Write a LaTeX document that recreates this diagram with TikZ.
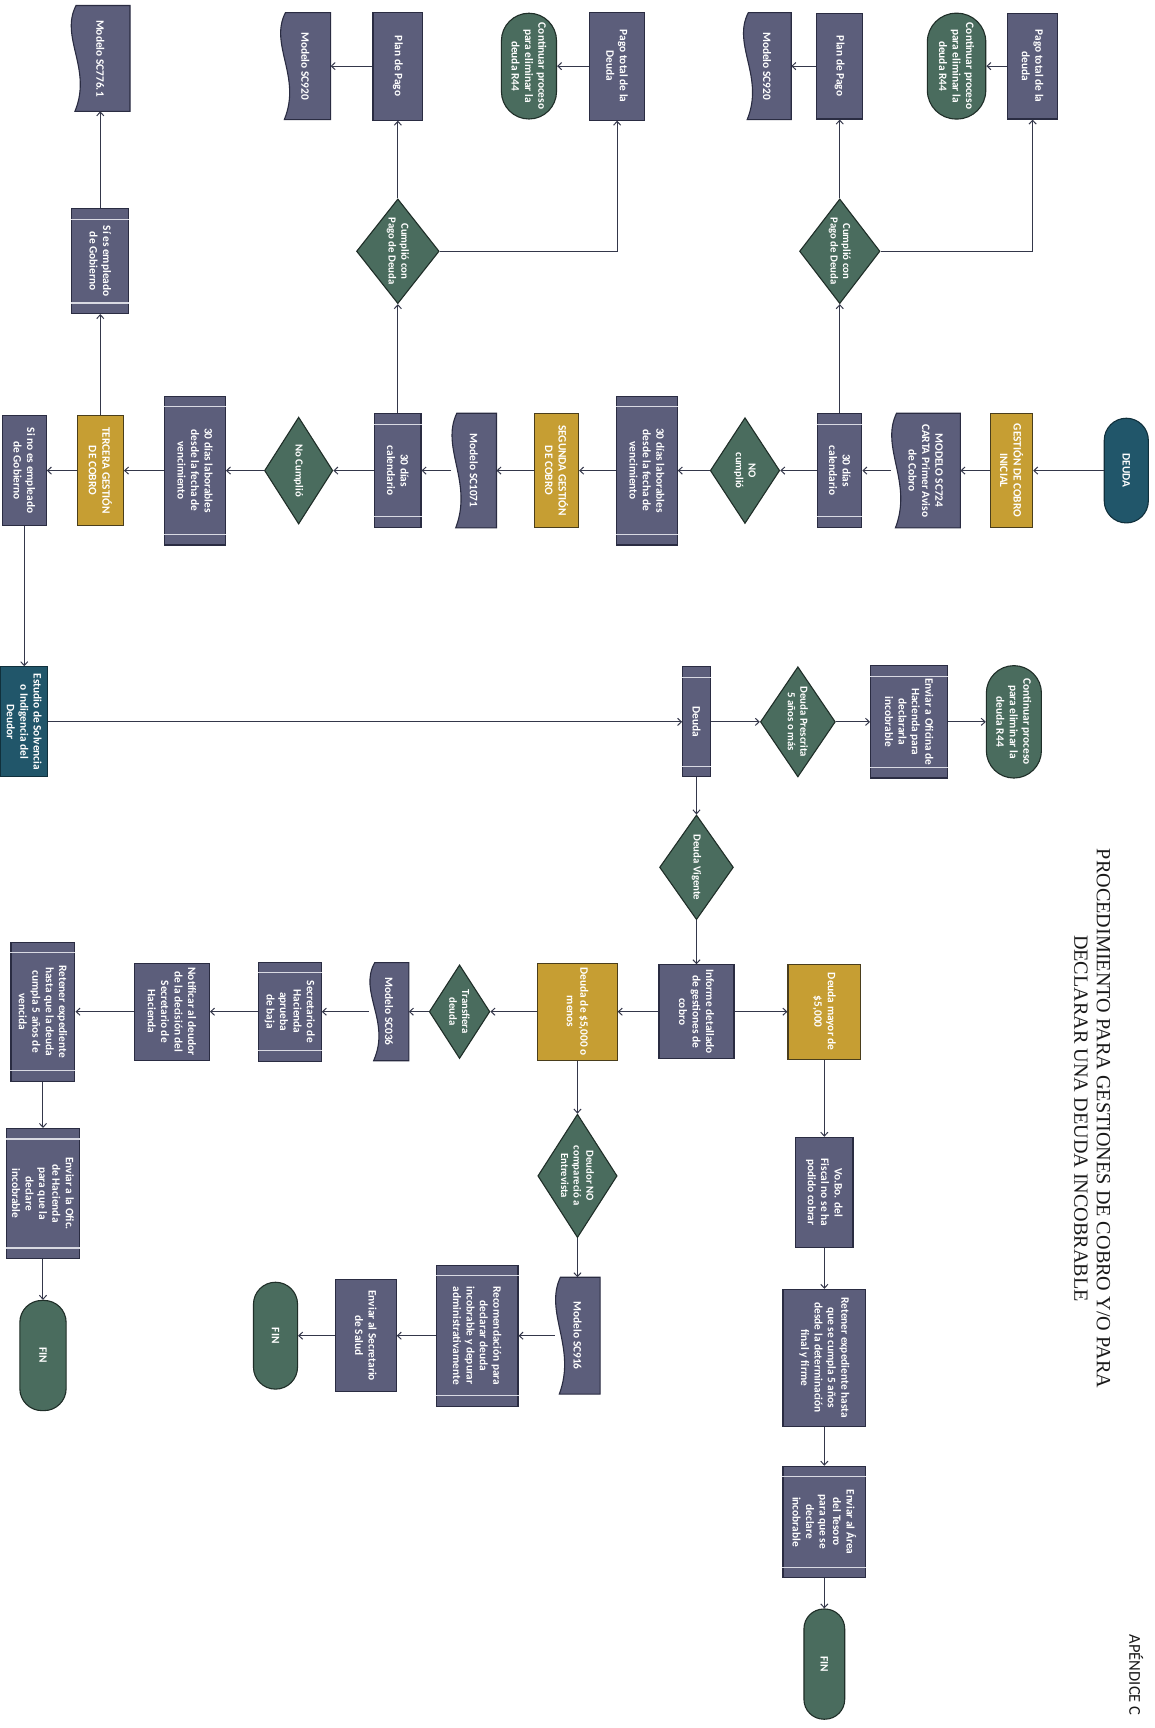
\documentclass[tikz,border=0pt]{standalone}
\usepackage{fontspec}
\setmainfont{Carlito}
\newfontfamily\titlefont{Liberation Serif}
\usetikzlibrary{shapes.geometric,arrows.meta,calc,backgrounds}
\definecolor{slate}{HTML}{5C5E7B}
\definecolor{slateD}{HTML}{2A2C42}
\definecolor{goldc}{HTML}{C69E33}
\definecolor{goldD}{HTML}{4A3E1C}
\definecolor{sage}{HTML}{4A6C5E}
\definecolor{sageD}{HTML}{1F2E28}
\definecolor{tealb}{HTML}{21566A}
\definecolor{tealD}{HTML}{10303C}
\definecolor{arrowc}{HTML}{34374A}
\definecolor{barc}{HTML}{D9DAE3}
\begin{document}
\begin{tikzpicture}[x=1pt,y=1pt]
\begin{scope}[rotate=-90, transform shape,
  base/.style={font=\fontsize{10.3}{12.2}\selectfont\bfseries, text=white, align=center, inner sep=1pt, line width=1pt},
  proc/.style={base, rectangle, draw=slateD, fill=slate},
  goldbox/.style={base, rectangle, draw=goldD, fill=goldc},
  terminal/.style={base, rectangle, rounded corners=#1, draw=sageD, fill=sage},
  terminal/.default=20pt,
  dia/.style={base, diamond, aspect=1.35, inner sep=0pt, draw=sageD, fill=sage, font=\fontsize{9.8}{11.5}\selectfont\bfseries},
  docnode/.style={base, rectangle, draw=none},
  sz/.style 2 args={minimum width=#1, minimum height=#2},
  arr/.style={draw=arrowc, line width=0.9pt, -{Straight Barb[length=3.5pt,width=6.5pt,line width=0.9pt]}},
  bar/.style={draw=barc, line width=1.1pt},
  docst/.style={draw=slateD, fill=slate, line width=1pt}]
\useasboundingbox (0,0) rectangle (1568,1048);
\begin{scope}[on background layer]
\fill[white] (0,0) rectangle (1568,1048);
\end{scope}

% main chain
\node[terminal=20pt, fill=tealb, draw=tealD, sz={95}{40}] (deuda0) at (427,1022) {DEUDA};
\node[goldbox, sz={103}{38}] (gest1) at (427,918) {GESTIÓN DE COBRO\\INICIAL};
\node[docnode, sz={103}{62}] (sc724) at (427,840) {MODELO SC724\\CARTA Primer Aviso\\de Cobro};
\node[proc, sz={103}{40}] (cal1) at (427,762) {30 días\\calendario};
\node[dia, sz={96}{63}] (nocump1) at (427,676) {NO\\cumplió};
\node[proc, sz={135}{55}] (lab1) at (427,587) {30 días laborables\\desde la fecha de\\vencimiento};
\node[goldbox, sz={103}{40}] (gest2) at (427,505) {SEGUNDA GESTIÓN\\DE COBRO};
\node[docnode, sz={103}{40}] (sc1071) at (427,430) {Modelo SC1071};
\node[proc, sz={103}{42}] (cal2) at (427,361) {30 días\\calendario};
\node[dia, sz={97}{62}] (nocump2) at (427,271) {No Cumplió};
\node[proc, sz={135}{55}] (lab2) at (427,177) {30 días laborables\\desde la fecha de\\vencimiento};
\node[goldbox, sz={100}{42}] (gest3) at (427,91) {TERCERA GESTIÓN\\DE COBRO};
\node[proc, sz={100}{40}] (sino) at (427,22) {Si no es empleado\\de Gobierno};

% branches
\node[dia, sz={95}{73}] (cumple1) at (228,762) {Cumplió con\\Pago de Deuda};
\node[proc, sz={96}{42}] (plan1) at (60,762) {Plan de Pago};
\node[docnode, sz={96}{43}] (sc920a) at (60,696) {Modelo SC920};
\node[proc, sz={96}{45}] (pago1) at (60,937) {Pago total de la\\deuda};
\node[terminal=26pt, sz={96}{53}] (cont1) at (60,868) {Continuar proceso\\para eliminar la\\deuda R44};
\node[dia, sz={95}{75}] (cumple2) at (228,361) {Cumplió con\\Pago de Deuda};
\node[proc, sz={98}{45}] (plan2) at (60,361) {Plan de Pago};
\node[docnode, sz={96}{45}] (sc920b) at (60,277) {Modelo SC920};
\node[proc, sz={98}{50}] (pago2) at (60,560) {Pago total de la\\Deuda};
\node[terminal=25pt, sz={96}{50}] (cont2) at (60,480) {Continuar proceso\\para eliminar la\\deuda R44};
\node[proc, sz={95}{52}] (siemp) at (237,91) {Sí es empleado\\de Gobierno};
\node[docnode, sz={95}{53}] (sc776) at (53,91) {Modelo SC776.1};

% middle
\node[proc, fill=tealb, draw=tealD, sz={100}{43}] (estudio) at (655,22) {Estudio de Solvencia\\o Indigencia del\\Deudor};
\node[proc, sz={100}{25}] (deuda) at (655,632) {Deuda};
\node[dia, sz={100}{68}] (prescr) at (655,724) {Deuda Prescrita\\5 años o más};
\node[proc, sz={102}{70}] (envof) at (655,825) {Enviar a Oficina de\\Hacienda para\\declararla\\incobrable};
\node[terminal=25pt, sz={102}{50}] (cont3) at (655,920) {Continuar proceso\\para eliminar la\\deuda R44};
\node[dia, sz={95}{67}] (vigente) at (787,632) {Deuda Vigente};
\node[proc, sz={85}{68}] (informe) at (918,632) {Informe detallado\\de gestiones de\\cobro};
\node[goldbox, sz={88}{72}] (menos) at (918,524) {Deuda de \$5,000 o\\menos};
\node[goldbox, sz={86}{66}] (mayor) at (918,748) {Deuda mayor de\\\$5,000};

% right column
\node[proc, sz={100}{52}] (vobo) at (1082,748) {Vo.Bo. del\\Fiscal no se ha\\podido cobrar};
\node[proc, sz={124}{75}] (ret1) at (1232,748) {Retener expediente hasta\\que se cumpla 5 años\\desde la determinación\\final y firme};
\node[proc, sz={101}{75}] (tesoro) at (1381,748) {Enviar al Área\\del Tesoro\\para que se\\declare\\incobrable};
\node[terminal=18pt, sz={100}{37}] (fin1) at (1510,748) {FIN};

% lower row
\node[dia, sz={85}{55}] (transf) at (918,417) {Transfiera\\deuda};
\node[docnode, sz={88}{35}] (sc036) at (918,353) {Modelo SC036};
\node[proc, sz={90}{57}] (secret) at (918,263) {Secretario de\\Hacienda\\aprueba\\de baja};
\node[proc, sz={88}{68}] (notif) at (918,156) {Notificar al deudor\\de la decisión del\\Secretario de\\Hacienda};
\node[proc, sz={126}{58}] (ret2) at (918,39) {Retener expediente\\hasta que la deuda\\cumpla 5 años de\\vencida};
\node[proc, sz={118}{66}] (envof2) at (1083,39) {Enviar a la Ofic.\\de Hacienda\\para que la\\declare\\incobrable};
\node[terminal=20pt, sz={100}{42}] (fin2) at (1230,39) {FIN};

\node[dia, sz={112}{72}] (nocomp) at (1067,524) {Deudor NO\\compareció a\\Entrevista};
\node[docnode, sz={105}{40}] (sc916) at (1212,524) {Modelo SC916};
\node[proc, sz={128}{74}] (recom) at (1212,433) {Recomendación para\\declarar deuda\\incobrable y depurar\\administrativamente};
\node[proc, sz={102}{55}] (salud) at (1212,332) {Enviar al Secretario\\de Salud};
\node[terminal=20pt, sz={97}{40}] (fin3) at (1212,250) {FIN};

% titles
\node[font=\titlefont\fontsize{18.3}{20.5}\selectfont, text=black!90, align=center] (titulo) at (1015,991) {PROCEDIMIENTO PARA GESTIONES DE COBRO Y/O PARA\\DECLARAR UNA DEUDA INCOBRABLE};
\node[font=\fontsize{15}{17}\selectfont, text=black!90] (apendice) at (1520,1031) {APÉNDICE C};

% predefined-process bars
\foreach \n in {cal1,lab1,cal2,lab2,siemp,deuda,envof,tesoro,secret,ret2,envof2,recom}{
  \draw[bar] ($(\n.north west)!10pt!(\n.north east)$) -- ($(\n.south west)!10pt!(\n.south east)$);
  \draw[bar] ($(\n.north east)!10pt!(\n.north west)$) -- ($(\n.south east)!10pt!(\n.south west)$);
}
% document shapes
\begin{scope}[on background layer]
\foreach \n in {sc724,sc1071,sc920a,sc920b,sc776,sc036,sc916}{
  \filldraw[docst] (\n.north west) -- (\n.north east) -- ($(\n.south east)+(0,4)$)
    .. controls ($(\n.south east)!0.4!(\n.south west)+(0,20)$) and ($(\n.south east)!0.7!(\n.south west)+(0,-10)$) .. ($(\n.south west)+(0,5)$) -- cycle;
}
\end{scope}

% connectors
\draw[arr] (deuda0) -- (gest1);
\draw[arr] (gest1) -- (sc724);
\draw[arr] (sc724) -- (cal1);
\draw[arr] (cal1) -- (nocump1);
\draw[arr] (cal1) -- (cumple1);
\draw[arr] (cumple1) -- (plan1);
\draw[arr] (cumple1.north) |- (pago1.east);
\draw[arr] (plan1) -- (sc920a);
\draw[arr] (pago1) -- (cont1);
\draw[arr] (nocump1) -- (lab1);
\draw[arr] (lab1) -- (gest2);
\draw[arr] (gest2) -- (sc1071);
\draw[arr] (sc1071) -- (cal2);
\draw[arr] (cal2) -- (nocump2);
\draw[arr] (cal2) -- (cumple2);
\draw[arr] (cumple2) -- (plan2);
\draw[arr] (cumple2.north) |- (pago2.east);
\draw[arr] (plan2) -- (sc920b);
\draw[arr] (pago2) -- (cont2);
\draw[arr] (nocump2) -- (lab2);
\draw[arr] (lab2) -- (gest3);
\draw[arr] (gest3) -- (siemp);
\draw[arr] (siemp) -- (sc776);
\draw[arr] (gest3) -- (sino);
\draw[arr] (sino) -- (estudio);
\draw[arr] (estudio) -- (deuda);
\draw[arr] (deuda) -- (prescr);
\draw[arr] (prescr) -- (envof);
\draw[arr] (envof) -- (cont3);
\draw[arr] (deuda) -- (vigente);
\draw[arr] (vigente) -- (informe);
\draw[arr] (informe) -- (menos);
\draw[arr] (informe) -- (mayor);
\draw[arr] (mayor) -- (vobo);
\draw[arr] (vobo) -- (ret1);
\draw[arr] (ret1) -- (tesoro);
\draw[arr] (tesoro) -- (fin1);
\draw[arr] (menos) -- (transf);
\draw[arr] (transf) -- (sc036);
\draw[arr] (sc036) -- (secret);
\draw[arr] (secret) -- (notif);
\draw[arr] (notif) -- (ret2);
\draw[arr] (ret2) -- (envof2);
\draw[arr] (envof2) -- (fin2);
\draw[arr] (menos) -- (nocomp);
\draw[arr] (nocomp) -- (sc916);
\draw[arr] (sc916) -- (recom);
\draw[arr] (recom) -- (salud);
\draw[arr] (salud) -- (fin3);
\end{scope}
\end{tikzpicture}
\end{document}
